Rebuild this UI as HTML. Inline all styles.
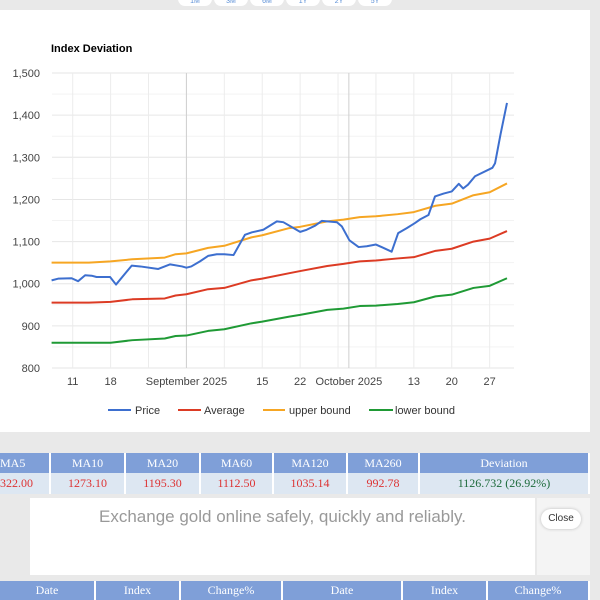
<!DOCTYPE html>
<html><head><meta charset="utf-8"><style>
body{margin:0;width:600px;height:600px;overflow:hidden;background:#e9e9e9;font-family:"Liberation Sans",sans-serif;position:relative}
.abs{position:absolute}
.tb td{border-right:2px solid #fff;text-align:center;font-family:"Liberation Serif",serif;font-size:12px;padding:0}
.rb{position:absolute;top:-8px;width:34px;height:14px;border-radius:8px;background:#fff;color:#5b8fd6;font-size:7px;text-align:center;line-height:19px}
</style></head><body>
<div class="abs" style="left:0;top:0;width:600px;height:10px;background:#e9e9e9">
<span class="rb" style="left:178px">1M</span>
<span class="rb" style="left:214px">3M</span>
<span class="rb" style="left:250px">6M</span>
<span class="rb" style="left:286px">1Y</span>
<span class="rb" style="left:322px">2Y</span>
<span class="rb" style="left:358px">5Y</span>
</div>
<div class="abs" style="left:0;top:10px;width:590px;height:422px;background:#fff"></div>
<svg class="abs" style="left:0;top:0" width="600" height="432">
<text x="51" y="52" font-size="11" font-weight="bold" fill="#000">Index Deviation</text>
<g id="grid"></g><g id="lines"></g><g id="axes"></g>
<g font-size="11" fill="#333">
<g><line x1="108" y1="410" x2="131" y2="410" stroke="#3d6fcf" stroke-width="2"/><text x="135" y="414">Price</text></g>
<g><line x1="178" y1="410" x2="201" y2="410" stroke="#dc3b24" stroke-width="2"/><text x="204" y="414">Average</text></g>
<g><line x1="263" y1="410" x2="285" y2="410" stroke="#f6a623" stroke-width="2"/><text x="289" y="414">upper bound</text></g>
<g><line x1="369" y1="410" x2="393" y2="410" stroke="#1f9a35" stroke-width="2"/><text x="395" y="414">lower bound</text></g>
</g>
</svg>
<div class="abs" style="left:0;top:453px;width:590px">
<table class="tb" style="border-collapse:collapse;width:590px;table-layout:fixed">
<tr style="background:#7f9fd8;color:#fff;height:20px">
<td style="width:49px;text-align:left">MA5</td><td style="width:73px">MA10</td><td style="width:73px">MA20</td><td style="width:71px">MA60</td><td style="width:72px">MA120</td><td style="width:70px">MA260</td><td>Deviation</td></tr>
<tr style="background:#dde7f2;color:#d33;height:21px">
<td style="text-align:left">322.00</td><td>1273.10</td><td>1195.30</td><td>1112.50</td><td>1035.14</td><td>992.78</td><td style="color:#1e6b3c">1126.732 (26.92%)</td></tr>
</table></div>
<div class="abs" style="left:30px;top:498px;width:505px;height:77px;background:#fff;color:#999;font-size:17px;text-align:center;line-height:38px">Exchange gold online safely, quickly and reliably.</div>
<div class="abs" style="left:537px;top:498px;width:53px;height:77px;background:#f4f4f4"></div>
<div class="abs" style="left:541px;top:509px;width:40px;height:20px;border-radius:10px;background:#fff;box-shadow:0 0 3px #bbb;font-size:10px;text-align:center;line-height:20px;color:#333">Close</div>
<div class="abs" style="left:0;top:581px;width:590px">
<table class="tb" style="border-collapse:collapse;width:590px;table-layout:fixed"><tr style="background:#7f9fd8;color:#fff;height:19px">
<td style="width:94px">Date</td><td style="width:83px">Index</td><td style="width:100px">Change%</td><td style="width:118px">Date</td><td style="width:83px">Index</td><td>Change%</td></tr></table></div>
<script>
const yTicks=[800,900,1000,1100,1200,1300,1400,1500];
const xTickDays=[0,7,21,35,42,51,63,70,77];
const xTickLabels=["11","18","September 2025","15","22","October 2025","13","20","27"];
const priceDays=[-3.9,-2.7,-0.2,1,2.3,3.5,4.4,6.9,8,10.9,12.5,15.8,18,20.2,21,21.9,23.5,25,26.6,28,29.7,31.8,33.1,35.2,37.7,38.9,42,43.2,44.8,46,48.8,49.7,51.1,52.8,54.3,56,57.4,58.9,60.1,61.7,63.2,64.2,65.7,66.9,68.5,70,71.3,72.1,73,74.3,77.5,78,79,80.2];
const priceVals=[1008,1012,1013,1006,1020,1019,1016,1016,998,1043,1041,1035,1046,1041,1038,1041,1053,1066,1070,1070,1068,1116,1122,1128,1148,1146,1123,1128,1138,1149,1146,1136,1103,1087,1089,1093,1085,1076,1120,1132,1144,1153,1163,1207,1214,1219,1237,1226,1235,1255,1275,1286,1354,1429];
const bandDays=[-3.9,3,7,11,17,19,21,25,28,33,35,40,42,47,50,53,56,60,63,67,70,74,77,80.2];
const avgVals=[955,955,957,963,965,972,975,987,990,1008,1012,1025,1030,1042,1047,1053,1055,1060,1063,1078,1083,1100,1107,1125];
const upperVals=[1050,1050,1053,1058,1062,1070,1072,1085,1090,1110,1115,1132,1135,1148,1152,1158,1160,1165,1170,1185,1190,1210,1217,1238];
const lowerVals=[860,860,860,866,870,876,877,888,892,906,910,922,926,938,941,947,948,952,956,970,974,990,995,1013];
const X=d=>72.7+5.415*d, Y=v=>368-(v-800)*0.4214;
const NS="http://www.w3.org/2000/svg";
const mk=(t,a,p)=>{const e=document.createElementNS(NS,t);for(const k in a)e.setAttribute(k,a[k]);p.appendChild(e);return e;};
const grid=document.getElementById('grid'),axes=document.getElementById('axes'),lines=document.getElementById('lines');
yTicks.forEach(v=>{const l=mk('line',{x1:52,x2:514,y1:Y(v),y2:Y(v),stroke:'#e6e6e6'},grid);


if(v<1500){const m=mk('line',{x1:52,x2:514,y1:Y(v+50),y2:Y(v+50),stroke:'#f3f3f3'},grid);

}
const t=mk('text',{x:40,y:Y(v)+4,'text-anchor':'end','font-size':11,fill:'#444'},axes);t.textContent=v.toLocaleString('en-US');

});
for(let d=0;d<=77;d+=7){const l=mk('line',{x1:X(d),x2:X(d),y1:Y(1500),y2:Y(800),stroke:'#ececec'},grid);

}
[21,51].forEach(d=>{const l=mk('line',{x1:X(d),x2:X(d),y1:Y(1500),y2:Y(800),stroke:'#cfcfcf'},grid);

});
xTickDays.forEach((d,i)=>{const t=mk('text',{x:X(d),y:385,'text-anchor':'middle','font-size':11,fill:'#444'},axes);t.textContent=xTickLabels[i];

});
function series(days,vals,color,name){const p=mk('polyline',{points:days.map((d,i)=>X(d)+','+Y(vals[i])).join(' '),fill:'none',stroke:color,'stroke-width':2,'stroke-linejoin':'round'},lines);

}
series(bandDays,lowerVals,'#1f9a35','lower-bound-line');
series(bandDays,avgVals,'#dc3b24','average-line');
series(bandDays,upperVals,'#f6a623','upper-bound-line');
series(priceDays,priceVals,'#3d6fcf','price-line');
</script>
</body></html>
